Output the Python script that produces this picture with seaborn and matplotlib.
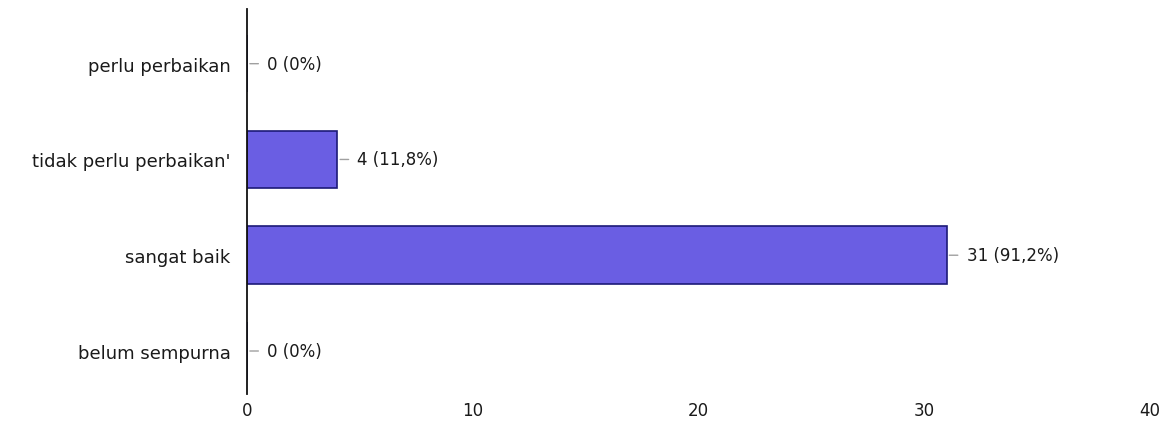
import matplotlib
matplotlib.use("Agg")
import matplotlib.pyplot as plt
import seaborn as sns
import pandas as pd

# survey answers, top to bottom as in the chart
categories = ["perlu perbaikan", "tidak perlu perbaikan'", "sangat baik", "belum sempurna"]
counts = [0, 4, 31, 0]
labels = ["0 (0%)", "4 (11,8%)", "31 (91,2%)", "0 (0%)"]
x_ticks = [0, 10, 20, 30, 40]

df = pd.DataFrame({"kategori": categories, "jumlah": counts})

sns.set_style("white")
plt.rcParams["font.family"] = ["DejaVu Sans"]

fig = plt.figure(figsize=(11.6, 4.39), dpi=100)
ax = fig.add_axes([0.213, 0.100, 0.778, 0.877])

sns.barplot(data=df, x="jumlah", y="kategori", orient="h", order=categories,
            color="#6a5ee3", edgecolor="#1c1a78", linewidth=1.2, width=0.6,
            saturation=1, ax=ax)

# value labels with small grey leader line
for i, (v, lab) in enumerate(zip(counts, labels)):
    ax.annotate(lab, xy=(v, i), xytext=(14.5, 0), textcoords="offset points",
                ha="left", va="center", fontsize=12, color="#1a1a1a",
                fontweight="medium",
                arrowprops=dict(arrowstyle="-", color="#a0a0a0", lw=1.0,
                                shrinkA=4, shrinkB=2, relpos=(0, 0.5)))

ax.set_xlim(0, 40)
ax.set_ylim(3.45, -0.57)
ax.set_xticks(x_ticks)
ax.set_xticklabels([str(t) for t in x_ticks], fontsize=12, color="#1a1a1a")
ax.tick_params(axis="x", length=0, pad=5)
ax.tick_params(axis="y", length=0, pad=12, labelsize=13, labelcolor="#1a1a1a")
ax.set_xlabel("")
ax.set_ylabel("")

for s in ["top", "right", "bottom"]:
    ax.spines[s].set_visible(False)
ax.spines["left"].set_color("#111111")
ax.spines["left"].set_linewidth(1.3)

fig.savefig("out.png", dpi=100)
